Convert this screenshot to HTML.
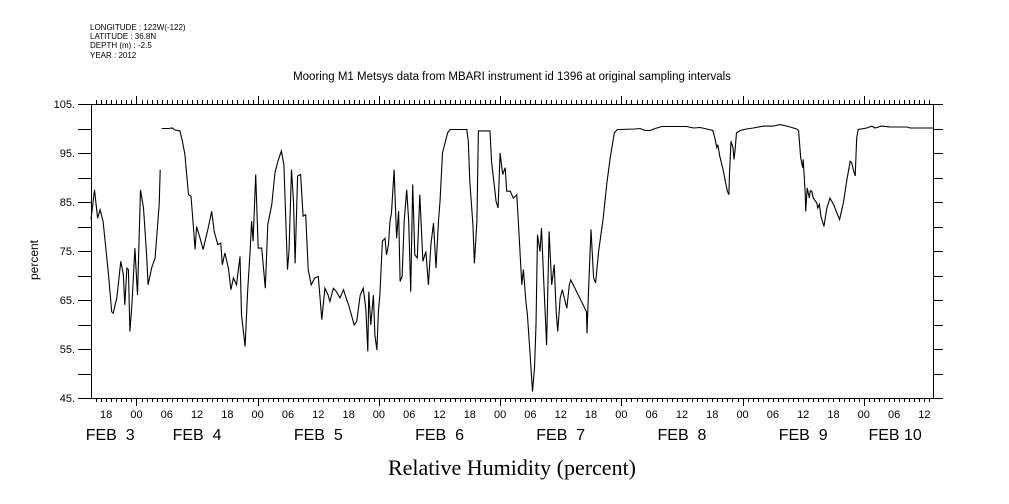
<!DOCTYPE html>
<html><head><meta charset="utf-8"><style>
html,body{margin:0;padding:0;background:#fff;}
svg{display:block;}
text{font-family:"Liberation Sans",sans-serif;fill:#000;}
.day{white-space:pre;}
</style></head><body>
<svg id="chart" width="1009" height="504" viewBox="0 0 1009 504" xmlns="http://www.w3.org/2000/svg">
<g font-size="8">
<text x="90" y="30">LONGITUDE : 122W(-122)</text>
<text x="90" y="39">LATITUDE : 36.8N</text>
<text x="90" y="48">DEPTH (m) : -2.5</text>
<text x="90" y="58">YEAR : 2012</text>
</g>
<text x="512" y="80" text-anchor="middle" font-size="11.5">Mooring M1 Metsys data from MBARI instrument id 1396 at original sampling intervals</text>
<text x="38" y="260" text-anchor="middle" font-size="12" transform="rotate(-90 38 260)">percent</text>
<text x="512" y="475" text-anchor="middle" font-size="22" style="font-family:'Liberation Serif',serif">Relative Humidity (percent)</text>
<g id="axes"></g>
<g id="series"></g>
</svg>
<script>
const hours=[15.0,15.7,16.3,16.8,17.4,18.4,19.1,19.4,20.1,20.9,21.4,21.7,22.1,22.4,22.7,23.1,23.7,24.2,24.8,25.4,26.0,26.3,27.0,27.7,28.5,28.7,
29.0,30.3,31.1,31.6,32.6,33.1,33.6,34.3,34.8,35.3,35.6,35.9,36.6,37.2,38.2,38.9,39.4,40.1,40.7,41.0,41.5,42.2,42.7,43.2,43.8,44.5,44.8,45.5,46.0,46.5,46.8,47.1,47.6,48.1,48.8,49.5,50.0,50.8,51.4,52.0,52.7,53.2,53.9,54.2,54.7,55.1,55.4,55.9,56.5,57.0,57.5,58.0,58.6,59.3,60.0,60.7,61.3,61.9,62.3,63.0,63.6,64.3,65.0,65.5,66.0,67.1,67.6,68.3,68.9,69.4,69.8,70.0,70.4,70.9,71.2,71.6,71.9,72.2,72.7,73.2,73.5,73.9,74.2,74.5,75.0,75.5,75.9,76.2,76.6,77.0,77.5,77.9,78.3,78.7,79.1,79.6,80.1,80.7,81.3,81.8,82.3,82.8,83.3,83.8,84.1,84.6,85.6,86.1,89.4,89.7,90.0,90.6,90.9,91.4,91.7,94.0,94.3,94.7,95.2,95.6,96.0,96.5,97.0,97.3,98.0,98.6,99.3,99.6,99.9,100.3,100.6,101.1,101.4,101.9,102.4,102.8,103.1,103.4,103.9,104.2,104.6,105.2,105.7,106.2,106.7,107.1,107.4,107.9,108.3,108.7,109.2,109.7,110.0,113.1,113.2,113.5,114.0,114.5,114.9,115.5,116.4,117.1,117.8,118.6,119.2,
119.7,122.7,123.7,124.7,125.7,126.7,128.0,132.9,134.3,135.6,136.9,138.1,138.5,138.9,139.1,139.5,140.2,140.7,141.0,141.3,141.4,141.7,142.1,142.3,142.5,142.8,143.5,144.8,146.1,148.1,150.1,151.4,152.4,153.4,154.7,155.1,155.5,155.9,156.0,156.4,156.5,156.8,157.2,157.4,157.7,158.0,158.7,158.9,159.2,159.5,160.1,160.7,161.3,162.0,163.2,164.0,164.6,165.3,165.6,166.0,166.3,166.6,166.9,168.6,169.6,170.2,171.5,173.2,176.5,177.2,181.7];
const humidity=[81.4,87.5,81.7,83.4,81.0,70.8,62.6,62.3,65.4,72.9,70.2,64.0,71.5,71.2,58.6,64.0,75.6,66.0,87.5,83.8,74.2,68.1,71.5,73.6,84.5,91.6,
100.0,100.0,100.1,99.7,99.5,97.4,94.7,86.5,86.2,79.7,75.3,80.0,77.6,75.3,79.7,83.1,79.0,76.3,76.6,72.2,74.6,71.5,67.1,69.5,68.1,73.9,62.0,55.5,66.7,74.9,81.1,77.0,90.6,75.6,75.6,67.4,80.4,84.5,90.9,93.3,95.4,92.6,71.2,74.9,91.6,85.1,72.5,90.3,90.6,82.1,82.4,71.2,68.1,69.5,69.8,61.0,67.4,66.1,64.7,67.4,66.7,65.4,67.1,65.4,64.0,59.9,60.6,66.0,67.4,63.3,54.5,66.7,59.9,66.0,57.9,54.8,62.6,66.1,77.0,77.6,74.2,76.3,81.1,82.8,91.6,77.6,83.1,68.8,69.8,81.1,87.5,81.1,66.7,88.6,74.2,73.6,86.5,72.9,74.9,68.1,76.3,80.7,71.5,81.1,85.1,95.0,99.1,99.8,99.8,97.4,89.2,80.4,72.5,81.1,99.5,99.5,93.3,89.6,85.1,83.8,95.0,90.6,92.0,87.2,87.2,85.8,86.5,81.1,75.6,68.1,71.2,64.7,62.0,54.5,46.3,51.1,59.9,78.3,74.9,79.7,69.5,55.8,79.0,68.1,72.2,62.6,58.6,65.4,67.1,65.4,63.3,68.1,69.1,62.6,58.2,66.7,79.4,69.5,68.5,74.9,81.7,88.6,94.0,99.1,99.8,
99.8,99.9,100.0,99.6,99.6,100.0,100.4,100.4,100.1,100.2,99.9,99.6,98.1,96.1,96.7,94.3,91.3,88.6,87.2,86.5,90.3,97.4,96.1,93.7,95.4,99.1,99.6,99.9,100.1,100.5,100.5,100.8,100.6,100.3,99.9,99.5,94.0,92.0,93.7,86.8,83.1,87.9,85.8,87.3,87.2,85.8,84.8,83.8,84.5,82.1,80.0,83.8,85.8,84.5,81.4,85.1,89.2,93.3,93.0,91.3,90.3,98.1,99.8,100.1,100.5,100.1,100.5,100.3,100.3,100.1,100.1];
const gapAfter=[25];
const yTickValues=[45,55,65,75,85,95,105];
const yTickLabels=["45.","55.","65.","75.","85.","95.","105."];
const dayLabels=["FEB  3","FEB  4","FEB  5","FEB  6","FEB  7","FEB  8","FEB  9","FEB 10"];
const dayLabelHours=[18.8,36,60,84,108,132,156,174.2];
const hourLabels=["00","06","12","18"];

const X0=91,X1=933,Y0=104,Y1=398,HMIN=15,HMAX=181.7,VMIN=45,VMAX=105;
function xs(h){return X0+(h-HMIN)/(HMAX-HMIN)*(X1-X0);}
function ys(v){return Y1-(v-VMIN)/(VMAX-VMIN)*(Y1-Y0);}
const NS="http://www.w3.org/2000/svg";
const axes=document.getElementById('axes');
function ln(x1,y1,x2,y2,name){const l=document.createElementNS(NS,'line');
l.setAttribute('x1',x1);l.setAttribute('y1',y1);l.setAttribute('x2',x2);l.setAttribute('y2',y2);
l.setAttribute('stroke','#000');l.setAttribute('stroke-width','1');l.setAttribute('shape-rendering','crispEdges');


axes.appendChild(l);return l;}
function tx(x,y,s,size,anchor,name){const t=document.createElementNS(NS,'text');
t.setAttribute('x',x);t.setAttribute('y',y);t.setAttribute('font-size',size);t.setAttribute('text-anchor',anchor);t.textContent=s;


axes.appendChild(t);return t;}
ln(X0+.5,Y0,X0+.5,Y1+1,'y-axis-left');
ln(X1+.5,Y0,X1+.5,Y1+1,'y-axis-right');
ln(X0,Y0+.5,X1+1,Y0+.5,'x-axis-top');
ln(X0,Y1+.5,X1+1,Y1+.5,'x-axis-bottom');
for(let v=VMIN;v<=VMAX;v+=5){const y=Math.round(ys(v))+.5;
 ln(X0-13,y,X0,y,'y-tick-left');ln(X1,y,X1+10,y,'y-tick-right');}
yTickValues.forEach((v,i)=>tx(75,ys(v)+4,yTickLabels[i],11,'end','y-tick-label'));
for(let h=16;h<=HMAX;h++){const x=Math.round(xs(h))+.5;const big=(h%24===0);
 ln(x,Y0-(big?8:4),x,Y0,'x-tick-top');ln(x,Y1,x,Y1+(big?8:4),'x-tick-bottom');
 if(h%6===0){tx(xs(h),418,hourLabels[(h%24)/6],11,'middle','hour-label');}}
dayLabels.forEach((s,i)=>{const t=tx(xs(dayLabelHours[i]),440,s,16,'middle','day-label');t.setAttribute('class','day');});
const g=document.getElementById('series');
let d='';
for(let i=0;i<hours.length;i++){d+=(i===0||gapAfter.includes(i-1)?'M':'L')+xs(hours[i]).toFixed(1)+','+ys(humidity[i]).toFixed(1);}
const p=document.createElementNS(NS,'path');
p.setAttribute('d',d);p.setAttribute('fill','none');p.setAttribute('stroke','#000');p.setAttribute('stroke-width','1.1');


g.appendChild(p);
</script>
</body></html>
